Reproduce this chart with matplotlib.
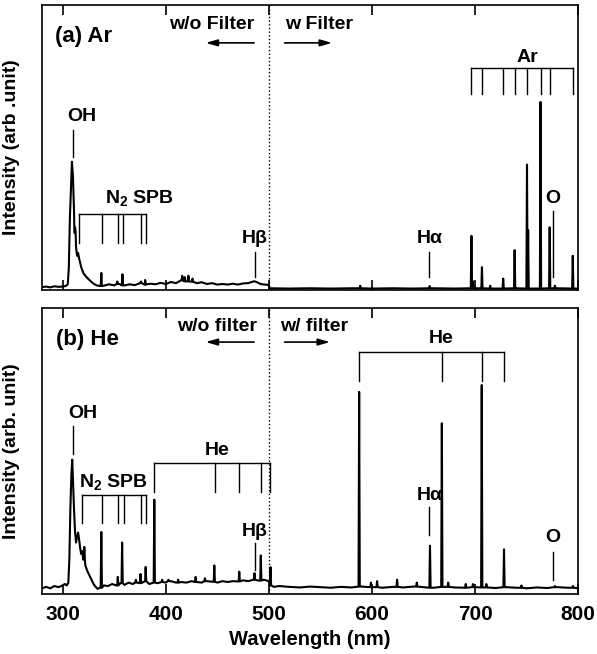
import numpy as np
import matplotlib
matplotlib.use("Agg")
import matplotlib.pyplot as plt

plt.rcParams['font.family'] = ['Liberation Sans', 'DejaVu Sans']
plt.rcParams['font.weight'] = 'bold'
plt.rcParams['mathtext.fontset'] = 'custom'
plt.rcParams['mathtext.rm'] = 'Liberation Sans:bold'
plt.rcParams['mathtext.default'] = 'rm'

# ---- (a) Ar : continuum (wavelength nm, intensity as fraction of axis) ----
ar_cont_wl = [280, 284, 288, 292, 296, 300, 303, 305, 306, 307, 308, 309, 310, 311,
              312, 313, 314, 315, 316, 318, 320, 322, 324, 326, 328, 330, 333, 336,
              340, 345, 350, 355, 360, 365, 370, 375, 380, 385, 390, 395, 400, 405,
              410, 415, 420, 425, 430, 435, 440, 445, 450, 455, 460, 465, 470, 475,
              480, 485, 488, 492, 496, 500, 500.5, 520, 540, 560, 580, 600, 620, 640,
              660, 680, 700, 720, 740, 760, 780, 800]
ar_cont_int = [0.010, 0.012, 0.009, 0.013, 0.011, 0.012, 0.014, 0.020, 0.08, 0.25,
               0.35, 0.45, 0.40, 0.28, 0.20, 0.15, 0.12, 0.13, 0.11, 0.08, 0.06, 0.05,
               0.042, 0.035, 0.028, 0.022, 0.016, 0.014, 0.015, 0.020, 0.016, 0.021,
               0.016, 0.020, 0.017, 0.024, 0.019, 0.022, 0.020, 0.025, 0.021, 0.028,
               0.024, 0.034, 0.030, 0.029, 0.024, 0.027, 0.021, 0.024, 0.019, 0.021,
               0.019, 0.022, 0.019, 0.023, 0.024, 0.030, 0.028, 0.021, 0.019, 0.018,
               0.006, 0.005, 0.006, 0.005, 0.006, 0.005, 0.006, 0.005, 0.006, 0.005,
               0.006, 0.005, 0.006, 0.005, 0.006, 0.005]
ar_peak_wl = [312, 337.5, 353, 358, 376, 380, 416, 418.5, 422, 426, 486, 588.6, 656,
              696.5, 698, 706.7, 714.7, 727.3, 738.4, 750.4, 751.5, 763.5, 772.4,
              777.4, 794.8]
ar_peak_int = [0.22, 0.060, 0.030, 0.055, 0.030, 0.035, 0.050, 0.045, 0.050, 0.040,
               0.030, 0.015, 0.014, 0.19, 0.030, 0.080, 0.015, 0.040, 0.14, 0.44,
               0.21, 0.66, 0.22, 0.015, 0.12]

# ---- (b) He ----
he_cont_wl = [280, 284, 288, 292, 296, 300, 302, 304, 305.5, 306.5, 307.5, 308.5,
              309.3, 310, 311, 312, 313, 314, 315, 316, 317, 318, 319, 320, 322, 324,
              326, 328, 330, 332, 334, 336, 340, 344, 348, 352, 356, 360, 364, 368,
              372, 376, 380, 384, 388, 392, 396, 400, 405, 410, 415, 420, 425, 430,
              435, 440, 445, 450, 455, 460, 465, 470, 475, 480, 485, 490, 495, 500,
              501, 505, 510, 520, 530, 540, 550, 560, 570, 580, 590, 600, 610, 620,
              630, 640, 650, 660, 670, 680, 690, 700, 710, 720, 730, 740, 750, 760,
              770, 780, 790, 800]
he_cont_int = [0.020, 0.025, 0.020, 0.028, 0.024, 0.030, 0.035, 0.030, 0.040, 0.12,
               0.30, 0.42, 0.47, 0.40, 0.30, 0.22, 0.18, 0.20, 0.215, 0.19, 0.16,
               0.14, 0.15, 0.12, 0.10, 0.08, 0.065, 0.05, 0.035, 0.025, 0.018, 0.022,
               0.030, 0.028, 0.035, 0.030, 0.038, 0.032, 0.040, 0.035, 0.040, 0.038,
               0.045, 0.035, 0.040, 0.038, 0.042, 0.040, 0.045, 0.040, 0.042, 0.040,
               0.045, 0.042, 0.040, 0.045, 0.043, 0.040, 0.045, 0.042, 0.045, 0.044,
               0.048, 0.045, 0.050, 0.047, 0.050, 0.045, 0.030, 0.025, 0.028, 0.025,
               0.023, 0.026, 0.024, 0.022, 0.025, 0.023, 0.026, 0.024, 0.022, 0.025,
               0.023, 0.026, 0.024, 0.022, 0.025, 0.023, 0.022, 0.024, 0.023, 0.021,
               0.024, 0.022, 0.020, 0.023, 0.021, 0.024, 0.022, 0.020]
he_peak_wl = [321, 337.5, 353.5, 357.7, 371, 375.5, 380.5, 388.9, 396.5, 402.6, 412,
              429, 438, 447.1, 471.3, 486.1, 492.2, 501.6, 587.6, 599, 605, 624.4,
              643.5, 656.3, 667.8, 674, 691, 698, 706.5, 711, 728.1, 745, 777.4, 795]
he_peak_int = [0.165, 0.217, 0.060, 0.180, 0.050, 0.070, 0.095, 0.33, 0.050, 0.050,
               0.050, 0.060, 0.055, 0.100, 0.078, 0.073, 0.135, 0.094, 0.707, 0.040,
               0.045, 0.050, 0.040, 0.169, 0.597, 0.040, 0.035, 0.035, 0.731, 0.035,
               0.156, 0.030, 0.028, 0.028]


def spectrum(cw, ci, pw, pi):
    cw = np.array(cw, float)
    ci = np.array(ci, float)
    xs, ys = list(cw), list(ci)
    for w, h in zip(pw, pi):
        b = ci[np.argmin(np.abs(cw - w))]
        xs += [w - 0.6, w, w + 0.6]
        ys += [b, h, b]
    order = np.argsort(xs, kind='stable')
    return np.array(xs)[order], np.array(ys)[order]


def bracket(ax, xs, y, y_end, lw=1.0):
    ax.plot([xs[0], xs[-1]], [y, y], color='k', lw=lw)
    for x in xs:
        ax.plot([x, x], [y, y_end], color='k', lw=lw)


def marker(ax, x, y0, y1):
    ax.plot([x, x], [y0, y1], color='k', lw=1.0)


fig = plt.figure(figsize=(5.97, 6.54), dpi=100)
ax1 = fig.add_axes([0.0704, 0.5566, 0.898, 0.4358])
ax2 = fig.add_axes([0.0704, 0.0917, 0.898, 0.4373])

fs = 14

for ax, cw, ci, pw, pi in [(ax1, ar_cont_wl, ar_cont_int, ar_peak_wl, ar_peak_int),
                           (ax2, he_cont_wl, he_cont_int, he_peak_wl, he_peak_int)]:
    x, y = spectrum(cw, ci, pw, pi)
    ax.plot(x, y, color='k', lw=1.5)
    ax.axvline(500, color='k', ls=':', lw=1.0)
    ax.set_xlim(280, 800)
    ax.set_ylim(0, 1)
    ax.set_yticks([])
    ax.set_xticks([300, 400, 500, 600, 700, 800])
    ax.tick_params(axis='x', direction='in', top=True, length=7, width=1.2,
                   labelsize=15, pad=8)
    for s in ax.spines.values():
        s.set_linewidth(1.2)
    ax.yaxis.set_label_coords(-0.041, 0.5)

ax1.tick_params(axis='x', labelbottom=False)
ax1.set_ylabel('Intensity (arb .unit)', fontsize=fs, fontweight='bold')
ax2.set_ylabel('Intensity (arb. unit)', fontsize=fs, fontweight='bold')
ax2.set_xlabel('Wavelength (nm)', fontsize=14.5, fontweight='bold', labelpad=4)

arrow = dict(arrowstyle='-|>,head_length=0.7,head_width=0.2', color='k', lw=1.2)

# ---- panel (a) annotations ----
ax1.text(292.6, 0.89, '(a) Ar', fontsize=16, va='center', ha='left')
ax1.text(486, 0.93, 'w/o Filter', fontsize=fs, va='center', ha='right')
ax1.text(516, 0.93, 'w Filter', fontsize=fs, va='center', ha='left')
ax1.annotate('', xy=(436, 0.867), xytext=(488.4, 0.867), arrowprops=arrow)
ax1.annotate('', xy=(564, 0.867), xytext=(512.6, 0.867), arrowprops=arrow)
ax1.text(318.6, 0.607, 'OH', fontsize=fs, ha='center', va='center')
marker(ax1, 310.3, 0.561, 0.467)
bracket(ax1, [315.8, 337.7, 354.1, 358.3, 376, 380.8], 0.266, 0.165)
ax1.text(374.4, 0.323, r'N$_2$ SPB', fontsize=fs, ha='center', va='center')
ax1.text(486.5, 0.18, 'Hβ', fontsize=fs, ha='center', va='center')
marker(ax1, 486.5, 0.133, 0.046)
ax1.text(655.6, 0.18, 'Hα', fontsize=fs, ha='center', va='center')
marker(ax1, 655.6, 0.133, 0.046)
ax1.text(775.6, 0.32, 'O', fontsize=fs, ha='center', va='center')
marker(ax1, 775.6, 0.277, 0.046)
bracket(ax1, [696.5, 706.7, 727.3, 738.4, 750.4, 763.5, 772.4, 794.8], 0.78, 0.688)
ax1.text(751, 0.814, 'Ar', fontsize=fs, ha='center', va='center')

# ---- panel (b) annotations ----
ax2.text(294, 0.89, '(b) He', fontsize=16, va='center', ha='left')
ax2.text(489, 0.934, 'w/o filter', fontsize=fs, va='center', ha='right')
ax2.text(510.6, 0.934, 'w/ filter', fontsize=fs, va='center', ha='left')
ax2.annotate('', xy=(436, 0.881), xytext=(488.4, 0.881), arrowprops=arrow)
ax2.annotate('', xy=(562, 0.881), xytext=(512.6, 0.881), arrowprops=arrow)
ax2.text(319.8, 0.63, 'OH', fontsize=fs, ha='center', va='center')
marker(ax2, 310.3, 0.587, 0.49)
bracket(ax2, [318.4, 338.3, 353.4, 359.9, 376.3, 380.8], 0.346, 0.248)
ax2.text(349, 0.39, r'N$_2$ SPB', fontsize=fs, ha='center', va='center')
bracket(ax2, [389, 447.8, 471.3, 492.6, 501.6], 0.458, 0.357)
ax2.text(449.4, 0.503, 'He', fontsize=fs, ha='center', va='center')
ax2.text(486.5, 0.217, 'Hβ', fontsize=fs, ha='center', va='center')
marker(ax2, 486.5, 0.178, 0.084)
bracket(ax2, [587.6, 667.8, 706.5, 728.1], 0.845, 0.746)
ax2.text(667, 0.895, 'He', fontsize=fs, ha='center', va='center')
ax2.text(655.6, 0.346, 'Hα', fontsize=fs, ha='center', va='center')
marker(ax2, 655.6, 0.304, 0.206)
ax2.text(775.6, 0.196, 'O', fontsize=fs, ha='center', va='center')
marker(ax2, 775.6, 0.147, 0.049)

fig.savefig('out.png', dpi=100)
